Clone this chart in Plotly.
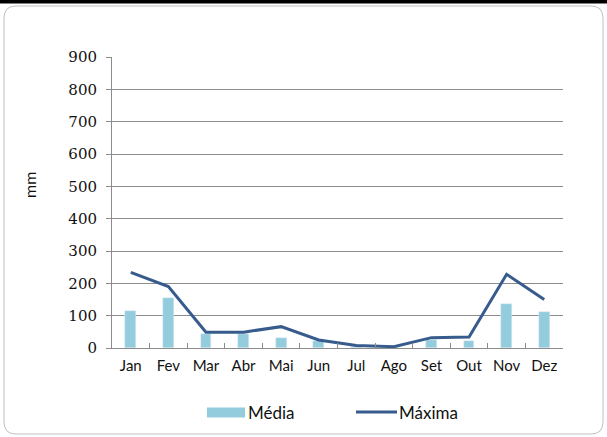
import plotly.graph_objects as go

# Monthly precipitation (mm)
meses = ["Jan", "Fev", "Mar", "Abr", "Mai", "Jun", "Jul", "Ago", "Set", "Out", "Nov", "Dez"]
media = [115, 156, 44, 42, 32, 21, 4, 2, 24, 22, 135, 111]
maxima = [234, 190, 49, 49, 66, 25, 8, 4, 32, 34, 228, 150]
y_ticks = [0, 100, 200, 300, 400, 500, 600, 700, 800, 900]

W, H = 607, 437
L, R, T, B = 112, 44, 57, 89
PW, PH = W - L - R, H - T - B

BAR_COLOR = "#93CDDD"
LINE_COLOR = "#365B8C"
GRID = "#8C8C8C"
TEXT = "#111111"
SANS = "Lato, 'Open Sans', sans-serif"
SERIF = "'DejaVu Serif', serif"


def px(x):
    return (x - L) / PW


def py(y):
    return 1 - (y - T) / PH


fig = go.Figure()
fig.add_trace(go.Bar(x=meses, y=media, name="Média", marker_color=BAR_COLOR,
                     width=0.29, showlegend=False))
fig.add_trace(go.Scatter(x=meses, y=maxima, name="Máxima", mode="lines",
                         line=dict(color=LINE_COLOR, width=3), showlegend=False))

# outer rounded frame
x0, y0, x1, y1, r = 4, 6, 603, 434, 12
frame = (f"M {px(x0 + r)},{py(y0)} L {px(x1 - r)},{py(y0)} "
         f"Q {px(x1)},{py(y0)} {px(x1)},{py(y0 + r)} "
         f"L {px(x1)},{py(y1 - r)} Q {px(x1)},{py(y1)} {px(x1 - r)},{py(y1)} "
         f"L {px(x0 + r)},{py(y1)} Q {px(x0)},{py(y1)} {px(x0)},{py(y1 - r)} "
         f"L {px(x0)},{py(y0 + r)} Q {px(x0)},{py(y0)} {px(x0 + r)},{py(y0)} Z")
shapes = [
    dict(type="path", path=frame, xref="paper", yref="paper",
         line=dict(color="#BFBFBF", width=1), layer="below"),
    dict(type="rect", xref="paper", yref="paper", x0=px(0), x1=px(W),
         y0=py(0), y1=py(3.5), fillcolor="black", line_width=0),
    # legend swatches
    dict(type="rect", xref="paper", yref="paper", x0=px(207), x1=px(245),
         y0=py(417.5), y1=py(407.5), fillcolor=BAR_COLOR, line_width=0),
    dict(type="line", xref="paper", yref="paper", x0=px(356), x1=px(397),
         y0=py(412), y1=py(412), line=dict(color=LINE_COLOR, width=3)),
]

annotations = [
    dict(text="Média", xref="paper", yref="paper", x=px(246), y=py(412),
         xanchor="left", yanchor="middle", showarrow=False,
         font=dict(family=SANS, size=17, color=TEXT)),
    dict(text="Máxima", xref="paper", yref="paper", x=px(397), y=py(412),
         xanchor="left", yanchor="middle", showarrow=False,
         font=dict(family=SANS, size=17, color=TEXT)),
    dict(text="mm", xref="paper", yref="paper", x=px(29), y=py(185),
         xanchor="center", yanchor="middle", textangle=-90, showarrow=False,
         font=dict(family=SANS, size=16, color=TEXT)),
]

fig.update_layout(
    width=W, height=H,
    margin=dict(l=L, r=R, t=T, b=B, pad=0),
    paper_bgcolor="white", plot_bgcolor="white",
    bargap=0, showlegend=False,
    shapes=shapes, annotations=annotations,
    xaxis=dict(type="category", showgrid=False, showline=True, linecolor=GRID,
               linewidth=1, ticks="inside", ticklen=5, tickcolor=GRID,
               tickson="boundaries", tickangle=0,
               tickfont=dict(family=SANS, size=15, color=TEXT),
               ticklabelstandoff=4, fixedrange=True),
    yaxis=dict(range=[0, 900], tickvals=y_ticks, showgrid=True, gridcolor=GRID,
               gridwidth=1, showline=True, linecolor=GRID, linewidth=1,
               ticks="outside", ticklen=5, tickcolor=GRID, zeroline=False,
               tickfont=dict(family=SERIF, size=15, color=TEXT),
               ticklabelstandoff=6, fixedrange=True),
)

fig.write_html("out.html")
